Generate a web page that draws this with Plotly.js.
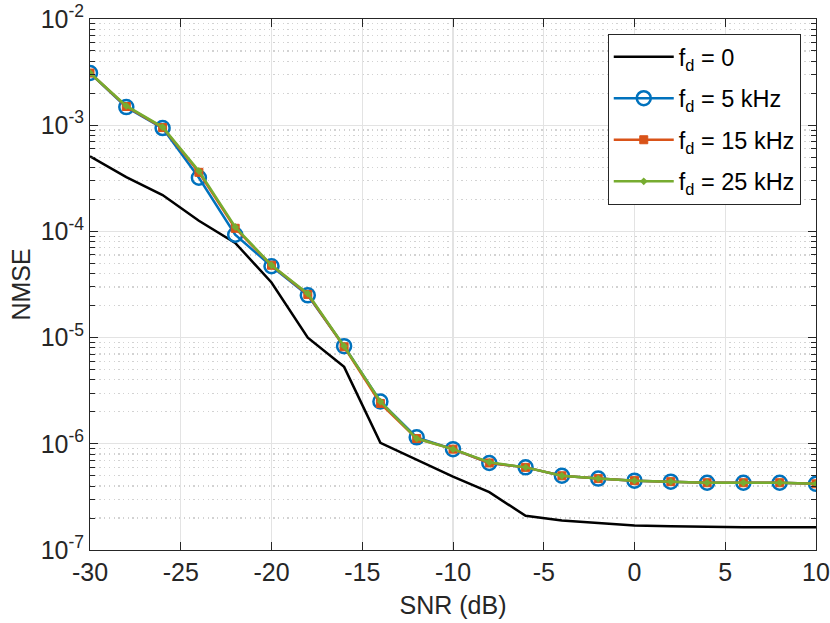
<!DOCTYPE html>
<html>
<head>
<meta charset="utf-8">
<script src="https://cdn.plot.ly/plotly-3.0.1.min.js"></script>
<style>
   body { margin: 0; background: #fff; }
   #canvas { width: 830px; height: 623px; }
</style>
</head>
<body>
<div id="canvas"></div>
<script>

// SNR in dB
const snr = [-30, -28, -26, -24, -22, -20, -18, -16, -14, -12, -10, -8, -6, -4, -2, 0, 2, 4, 6, 8, 10];

// NMSE per Doppler spread
const nmseFd0 = [5.1e-4, 3.25e-4, 2.2e-4, 1.26e-4, 7.8e-5, 3.3e-5, 1.0e-5, 5.3e-6, 1.02e-6, 7.1e-7, 4.9e-7,
   3.5e-7, 2.1e-7, 1.9e-7, 1.8e-7, 1.7e-7, 1.67e-7, 1.65e-7, 1.64e-7, 1.64e-7, 1.64e-7];
const nmseFd5 = [3.1e-3, 1.48e-3, 9.4e-4, 3.2e-4, 9.3e-5, 4.7e-5, 2.5e-5, 8.3e-6, 2.5e-6, 1.15e-6, 8.9e-7,
   6.6e-7, 6.0e-7, 5.0e-7, 4.7e-7, 4.5e-7, 4.4e-7, 4.3e-7, 4.3e-7, 4.3e-7, 4.2e-7];
const nmseFd15 = [3.1e-3, 1.5e-3, 9.5e-4, 3.6e-4, 1.07e-4, 4.8e-5, 2.55e-5, 8.2e-6, 2.4e-6, 1.12e-6, 8.9e-7,
   6.6e-7, 6.0e-7, 5.0e-7, 4.7e-7, 4.5e-7, 4.4e-7, 4.3e-7, 4.3e-7, 4.3e-7, 4.2e-7];
const nmseFd25 = [3.1e-3, 1.52e-3, 9.6e-4, 3.7e-4, 1.1e-4, 4.8e-5, 2.6e-5, 8.3e-6, 2.5e-6, 1.12e-6, 8.9e-7,
   6.7e-7, 6.0e-7, 5.0e-7, 4.7e-7, 4.5e-7, 4.4e-7, 4.3e-7, 4.3e-7, 4.3e-7, 4.2e-7];

const seriesNames = ['f<sub>d</sub> = 0', 'f<sub>d</sub> = 5 kHz', 'f<sub>d</sub> = 15 kHz', 'f<sub>d</sub> = 25 kHz'];

const xTickVals = [-30, -25, -20, -15, -10, -5, 0, 5, 10];
const xTickText = ['-30', '-25', '-20', '-15', '-10', '-5', '0', '5', '10'];
const yTickVals = [1e-7, 1e-6, 1e-5, 1e-4, 1e-3, 1e-2];
const yTickText = ['10<sup>-7</sup>', '10<sup>-6</sup>', '10<sup>-5</sup>', '10<sup>-4</sup>', '10<sup>-3</sup>', '10<sup>-2</sup>'];

// minor log ticks 2..9 in every decade
const yMinorVals = [];
for (let e = -7; e < -2; e++) {
   for (let m = 2; m <= 9; m++) yMinorVals.push(m * Math.pow(10, e));
}

const axisColor = '#262626';
const font = 'Liberation Sans, Arial, sans-serif';

const traces = [{
   name: seriesNames[0], x: snr, y: nmseFd0, legendgroup: 'a',
   mode: 'lines',
   line: { color: '#000000', width: 2.5 }
}, {
   name: seriesNames[1], x: snr, y: nmseFd5, legendgroup: 'b',
   mode: 'lines+markers',
   line: { color: '#0072BD', width: 2.5 },
   marker: { symbol: 'circle-open', size: 14, line: { width: 2.5, color: '#0072BD' } }
}, {
   name: seriesNames[2], x: snr, y: nmseFd15, legendgroup: 'c',
   mode: 'lines+markers',
   line: { color: '#D95319', width: 2.5 },
   marker: { symbol: 'square', size: 8, color: '#D95319', line: { width: 1, color: '#D95319' } }
}, {
   name: seriesNames[3], x: snr, y: nmseFd25, legendgroup: 'd',
   mode: 'lines+markers',
   line: { color: '#77AC30', width: 2.5 },
   marker: { symbol: 'diamond', size: 6, color: '#77AC30' }
}];

const layout = {
   width: 830, height: 623,
   margin: { l: 90, r: 14, t: 19, b: 73 },
   paper_bgcolor: '#fff', plot_bgcolor: '#fff',
   font: { family: font, size: 24, color: axisColor },
   showlegend: true,
   legend: {
      x: 0.979, y: 0.972, xanchor: 'right', yanchor: 'top',
      bgcolor: '#fff', bordercolor: axisColor, borderwidth: 1,
      font: { family: font, size: 23.5, color: '#000' },
      traceorder: 'grouped', tracegroupgap: 8, itemwidth: 60
   },
   xaxis: {
      range: [-30, 10],
      tickmode: 'array', tickvals: xTickVals, ticktext: xTickText,
      ticks: 'inside', ticklen: 8, tickcolor: axisColor,
      showline: true, linecolor: axisColor, linewidth: 1, mirror: 'allticks',
      showgrid: true, gridcolor: '#e3e3e3', gridwidth: 1.2,
      zeroline: false,
      tickfont: { family: font, size: 25, color: axisColor },
      title: { text: 'SNR (dB)', font: { family: font, size: 25, color: axisColor }, standoff: 11 }
   },
   yaxis: {
      type: 'log', range: [-7, -2],
      tickmode: 'array', tickvals: yTickVals, ticktext: yTickText,
      ticks: 'inside', ticklen: 8, tickcolor: axisColor,
      showline: true, linecolor: axisColor, linewidth: 1, mirror: 'allticks',
      showgrid: true, gridcolor: '#e3e3e3', gridwidth: 1.2,
      zeroline: false,
      tickfont: { family: font, size: 25, color: axisColor },
      minor: {
         tickmode: 'array', tickvals: yMinorVals,
         ticks: 'inside', ticklen: 5, tickcolor: axisColor,
         showgrid: true, gridcolor: '#d2d2d2', griddash: '1.3px,3.4px', gridwidth: 1.2
      },
      title: { text: 'NMSE', font: { family: font, size: 25, color: axisColor }, standoff: 2 }
   }
};

Plotly.newPlot('canvas', traces, layout, { staticPlot: true });

</script>
</body>
</html>
